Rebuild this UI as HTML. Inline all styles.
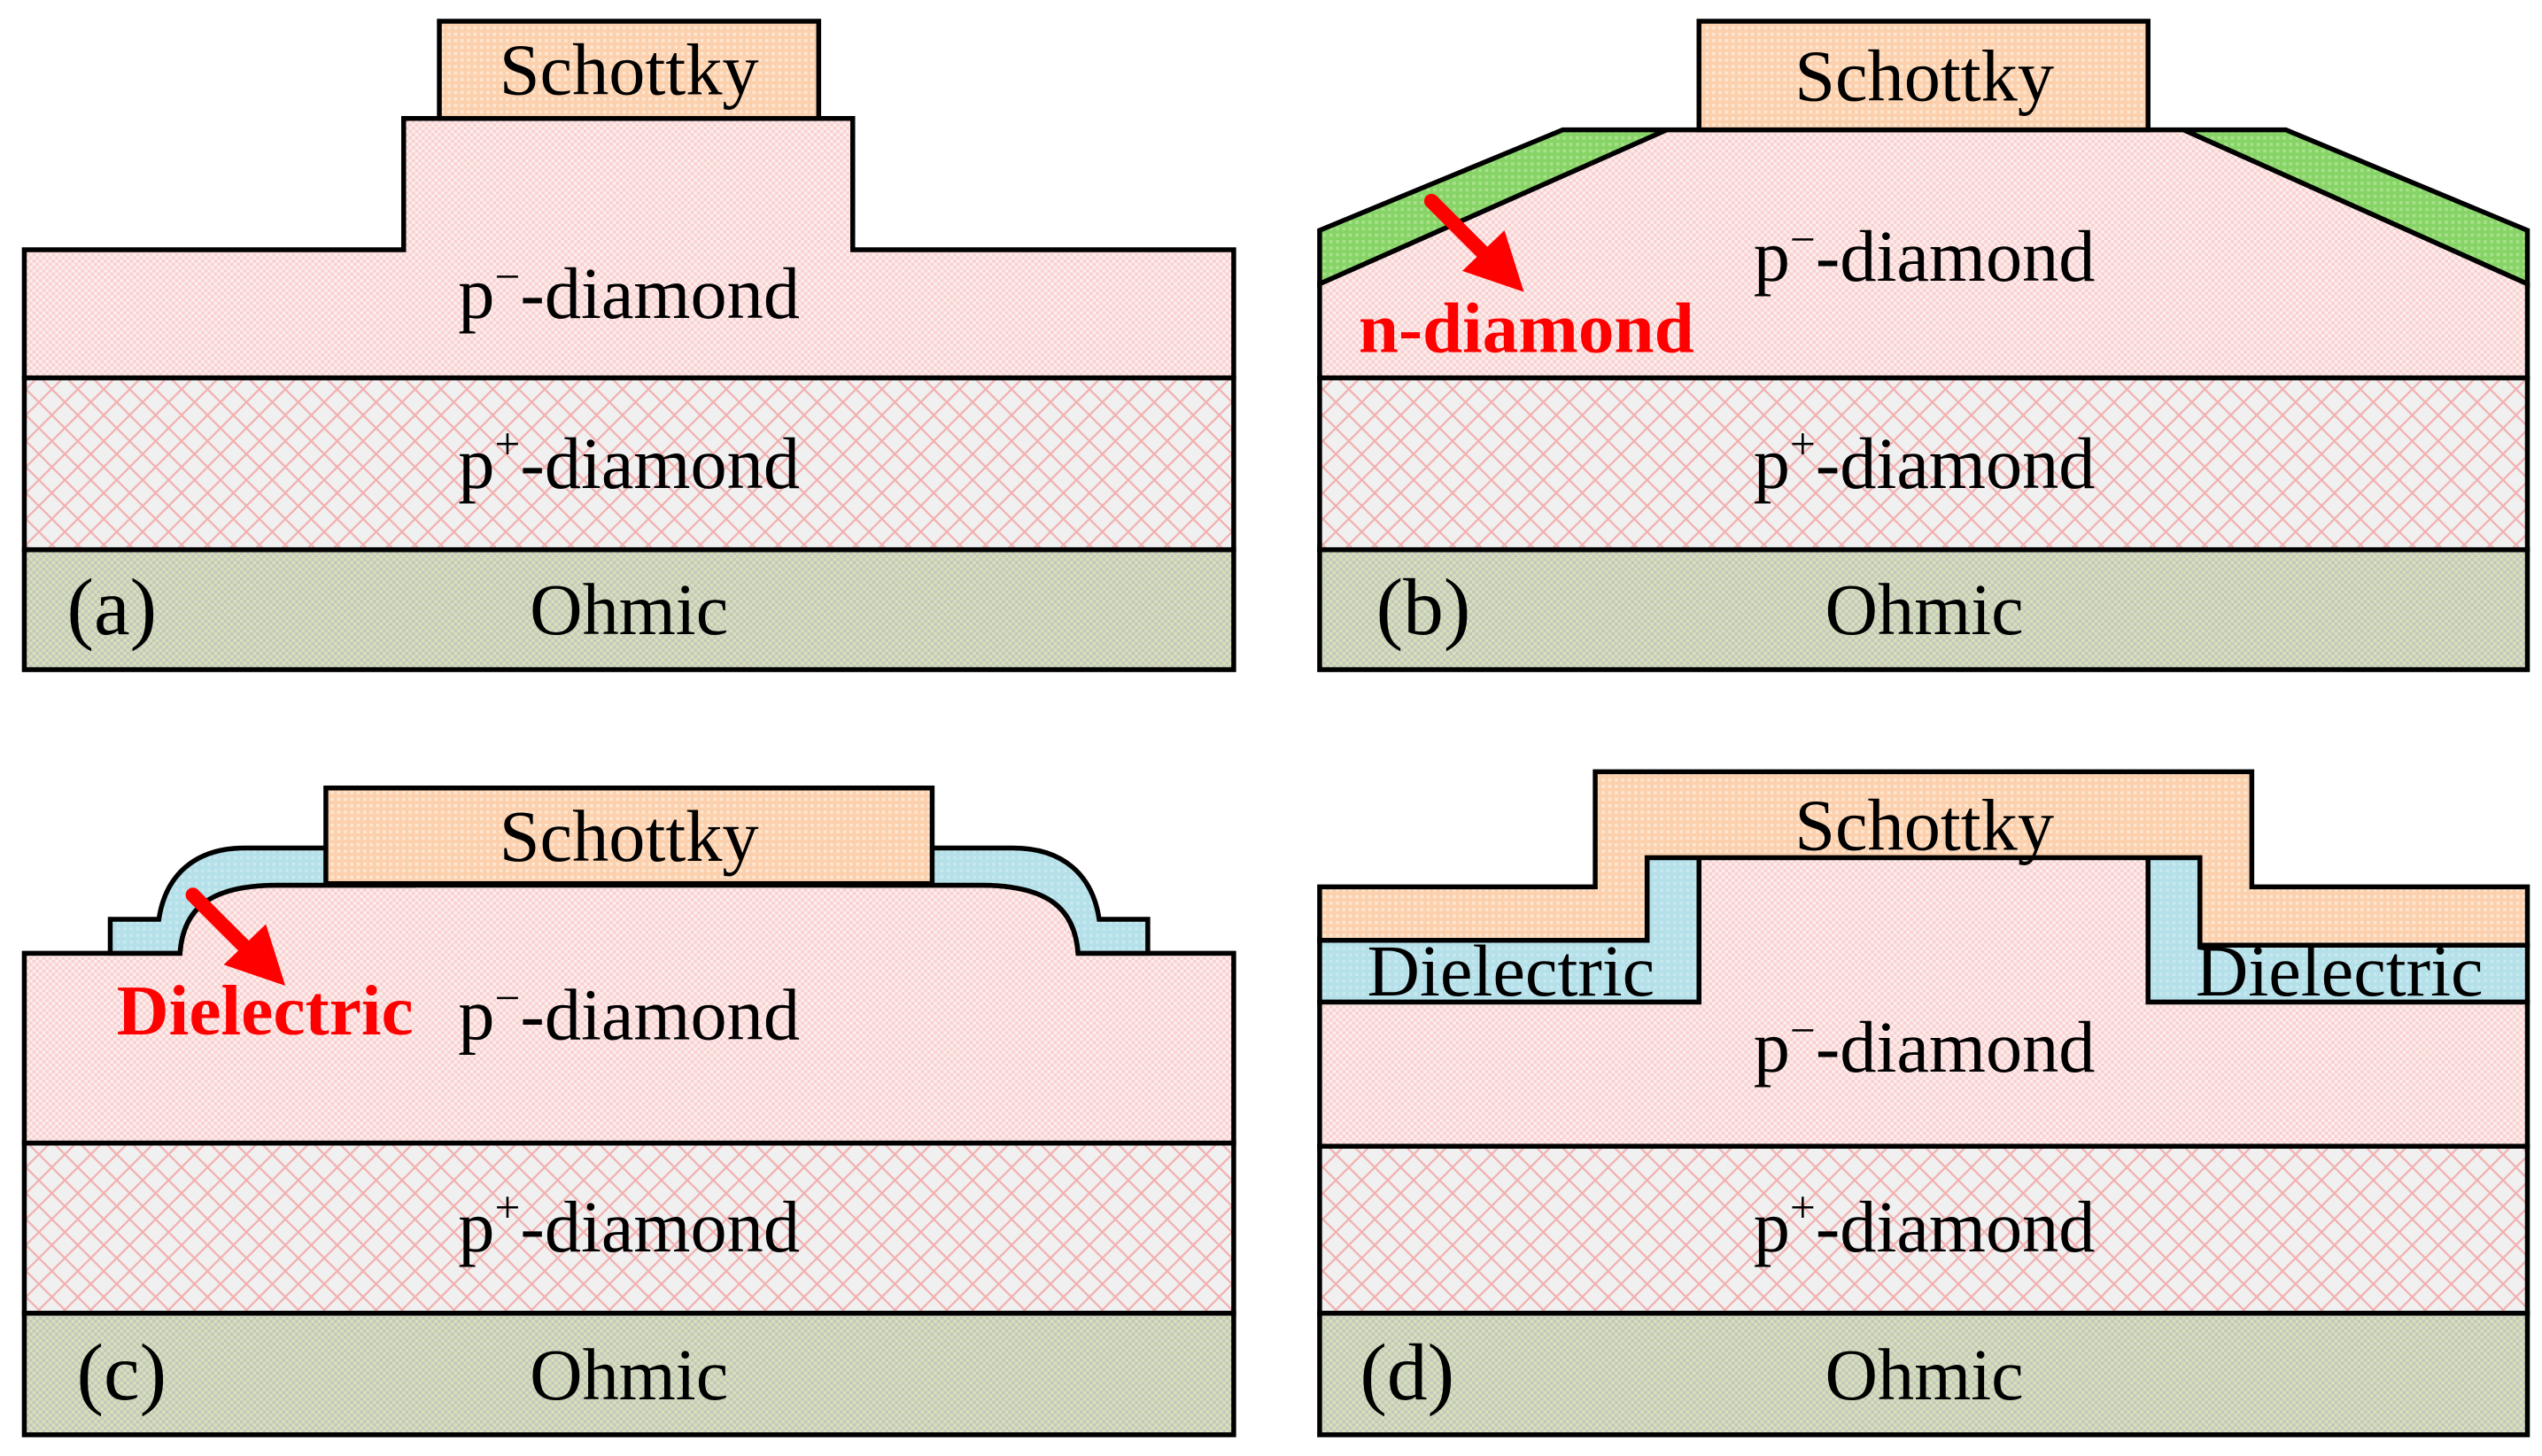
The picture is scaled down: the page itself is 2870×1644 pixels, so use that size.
<!DOCTYPE html>
<html><head><meta charset="utf-8"><style>html,body{margin:0;padding:0;background:#fff}svg{display:block}</style></head><body>
<svg width="2870" height="1644" viewBox="0 0 1568 898" xmlns="http://www.w3.org/2000/svg" font-family="'Liberation Serif',serif">
<defs>
<pattern id="pm" width="4" height="4" patternUnits="userSpaceOnUse"><rect width="4" height="4" fill="#fdeeee"/><rect width="2" height="2" fill="#f9d0d0"/><rect x="2" y="2" width="2" height="2" fill="#f9d0d0"/></pattern>
<pattern id="pp" width="16" height="16" patternUnits="userSpaceOnUse"><rect width="16" height="16" fill="#f1f0f0"/><path d="M0,0L16,16M16,0L0,16" stroke="#f2b0b0" stroke-width="1.2"/></pattern>
<pattern id="oh" width="4" height="4" patternUnits="userSpaceOnUse"><rect width="4" height="4" fill="#d6e2b8"/><rect width="2" height="2" fill="#c4c6be"/><rect x="2" y="2" width="2" height="2" fill="#c4c6be"/></pattern>
<pattern id="sc" width="4" height="4" patternUnits="userSpaceOnUse"><rect width="4" height="4" fill="#fcd0ac"/><rect width="2" height="2" fill="#fde6d2"/></pattern>
<pattern id="di" width="4" height="4" patternUnits="userSpaceOnUse"><rect width="4" height="4" fill="#b4e0ea"/><rect width="2" height="2" fill="#c8e8ee"/></pattern>
<pattern id="gr" width="4" height="4" patternUnits="userSpaceOnUse"><rect width="4" height="4" fill="#86d466"/><rect width="2" height="2" fill="#a8e08c"/></pattern>
</defs>
<g stroke="#000" stroke-width="3" stroke-linejoin="miter">
<!-- (a) -->
<rect x="15" y="339" width="746" height="74" fill="url(#oh)"/>
<rect x="15" y="233" width="746" height="106" fill="url(#pp)"/>
<path d="M15,233V154H249V73H526V154H761V233Z" fill="url(#pm)"/>
<rect x="271" y="13" width="234" height="60" fill="url(#sc)"/>
<!-- (b) -->
<rect x="814" y="339" width="745" height="74" fill="url(#oh)"/>
<rect x="814" y="233" width="745" height="106" fill="url(#pp)"/>
<path d="M814,233V175L1028,80H1347L1559,175V233Z" fill="url(#pm)"/>
<path d="M814,175V142L964,80H1028Z" fill="url(#gr)"/>
<path d="M1559,175V142L1410,80H1347Z" fill="url(#gr)"/>
<rect x="1048" y="13" width="277" height="67" fill="url(#sc)"/>
<!-- (c) -->
<rect x="15" y="810" width="746" height="75" fill="url(#oh)"/>
<rect x="15" y="705" width="746" height="105" fill="url(#pp)"/>
<path d="M15,705V588H111C113,560 130,546 171,546H605C646,546 663,560 665,588H761V705Z" fill="url(#pm)"/>
<path d="M68,588V567H98C102,540 120,523 151,523H255V546H171C130,546 113,560 111,588Z" fill="url(#di)"/>
<path d="M708,588V567H678C674,540 656,523 625,523H521V546H605C646,546 663,560 665,588Z" fill="url(#di)"/>
<rect x="201" y="486" width="374" height="59" fill="url(#sc)"/>
<!-- (d) -->
<rect x="814" y="810" width="745" height="75" fill="url(#oh)"/>
<rect x="814" y="707" width="745" height="103" fill="url(#pp)"/>
<path d="M814,707V618H1048V529H1325V618H1559V707Z" fill="url(#pm)"/>
<path d="M814,618V580H1016V529H1048V618Z" fill="url(#di)"/>
<path d="M1559,618V583H1357V529H1325V618Z" fill="url(#di)"/>
<path d="M814,580V547H984V476H1389V547H1559V583H1357V529H1016V580Z" fill="url(#sc)"/>
</g>
<!-- arrows -->
<g fill="#ff0000" stroke="#ff0000" stroke-linecap="round">
<line x1="883" y1="124" x2="915" y2="156" stroke-width="9"/>
<polygon points="940,180 928,142 902,167" stroke="none"/>
<line x1="119" y1="552" x2="151" y2="584" stroke-width="9"/>
<polygon points="176,608 164,570 138,595" stroke="none"/>
</g>
<g font-size="45" text-anchor="middle" fill="#000">
<text x="388" y="58">Schottky</text>
<text x="388" y="196">p<tspan dy="-16" font-size="28">−</tspan><tspan dy="16">-diamond</tspan></text>
<text x="388" y="301">p<tspan dy="-18" font-size="28">+</tspan><tspan dy="18">-diamond</tspan></text>
<text x="388" y="391">Ohmic</text>
<text x="69" y="391" font-size="50">(a)</text>
<text x="1187" y="62">Schottky</text>
<text x="1187" y="173">p<tspan dy="-16" font-size="28">−</tspan><tspan dy="16">-diamond</tspan></text>
<text x="1187" y="301">p<tspan dy="-18" font-size="28">+</tspan><tspan dy="18">-diamond</tspan></text>
<text x="1187" y="391">Ohmic</text>
<text x="878" y="391" font-size="50">(b)</text>
<text x="388" y="531">Schottky</text>
<text x="388" y="641">p<tspan dy="-16" font-size="28">−</tspan><tspan dy="16">-diamond</tspan></text>
<text x="388" y="772">p<tspan dy="-18" font-size="28">+</tspan><tspan dy="18">-diamond</tspan></text>
<text x="388" y="863">Ohmic</text>
<text x="75" y="863" font-size="50">(c)</text>
<text x="1187" y="524">Schottky</text>
<text x="1187" y="661">p<tspan dy="-16" font-size="28">−</tspan><tspan dy="16">-diamond</tspan></text>
<text x="1187" y="772">p<tspan dy="-18" font-size="28">+</tspan><tspan dy="18">-diamond</tspan></text>
<text x="1187" y="863">Ohmic</text>
<text x="868" y="863" font-size="50">(d)</text>
<text x="932" y="614">Dielectric</text>
<text x="1443" y="614">Dielectric</text>
</g>
<g font-size="44" font-weight="bold" fill="#ff0000">
<text x="838" y="217" textLength="207" lengthAdjust="spacingAndGlyphs">n-diamond</text>
<text x="72" y="638" textLength="183" lengthAdjust="spacingAndGlyphs">Dielectric</text>
</g>
</svg>
</body></html>
